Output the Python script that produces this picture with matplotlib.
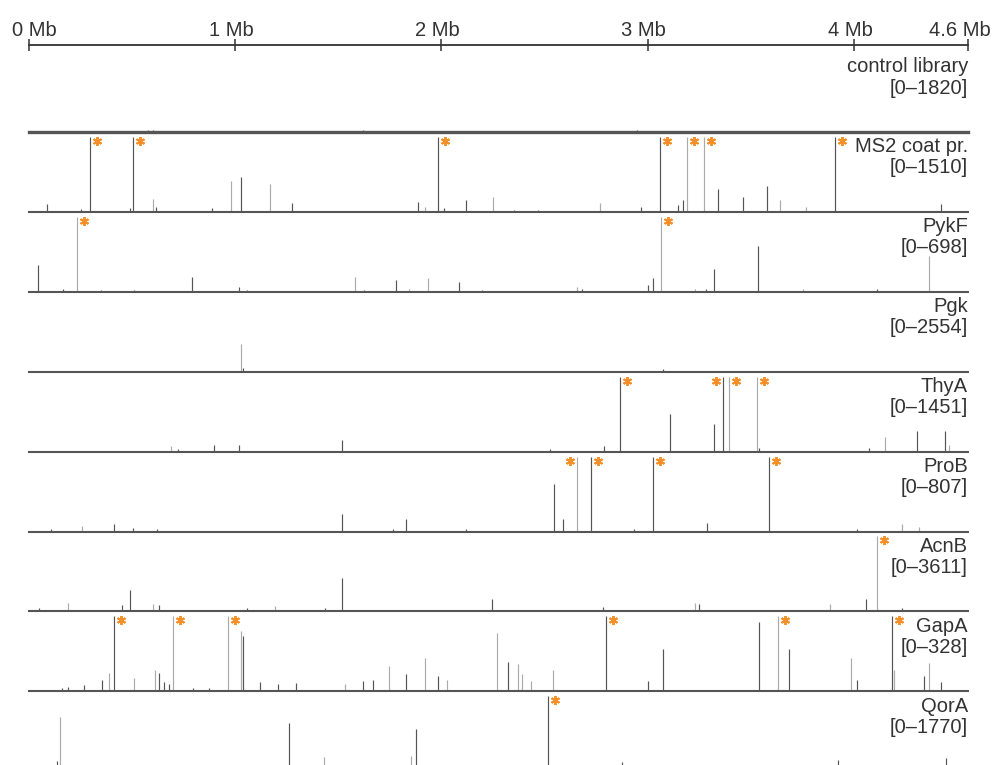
import matplotlib.pyplot as plt
from matplotlib.transforms import offset_copy, ScaledTranslation

plt.rcParams['font.family'] = ['Liberation Sans', 'DejaVu Sans']

# genome scale (Mb)
genome_mb = 4.553
scale_ticks = [0, 1, 2, 3, 4, genome_mb]
scale_labels = ['0 Mb', '1 Mb', '2 Mb', '3 Mb', '4 Mb', '4.6 Mb']

track_names = ['control library', 'MS2 coat pr.', 'PykF', 'Pgk', 'ThyA',
               'ProB', 'AcnB', 'GapA', 'QorA']
track_max = [1820, 1510, 698, 2554, 1451, 807, 3611, 328, 1770]

# peaks: (position in Mb, reads, strand)
control_peaks = [(0.12, 30, '+'), (0.30, 25, '+'), (0.577, 45, '+'), (0.60, 40, '+'),
                 (1.05, 25, '-'), (1.62, 60, '+'), (2.30, 25, '+'), (2.946, 55, '+'),
                 (3.05, 30, '-'), (3.50, 30, '+'), (4.40, 25, '+')]
ms2_peaks = [(0.087, 150, '+'), (0.252, 60, '+'), (0.297, 1510, '+'), (0.490, 75, '+'),
             (0.506, 1510, '+'), (0.600, 260, '-'), (0.614, 90, '+'), (0.887, 75, '+'),
             (0.979, 620, '-'), (1.026, 700, '+'), (1.168, 560, '-'), (1.275, 180, '+'),
             (1.886, 200, '+'), (1.919, 90, '-'), (1.985, 1510, '+'), (2.012, 75, '+'),
             (2.119, 240, '+'), (2.248, 300, '-'), (2.352, 45, '+'), (2.466, 45, '+'),
             (2.768, 180, '-'), (2.966, 90, '+'), (3.061, 1510, '+'), (3.145, 140, '+'),
             (3.172, 240, '+'), (3.189, 1510, '-'), (3.271, 1510, '-'), (3.342, 470, '+'),
             (3.460, 290, '+'), (3.580, 530, '+'), (3.640, 230, '-'), (3.766, 90, '-'),
             (3.909, 1510, '+'), (4.420, 150, '+')]
pykf_peaks = [(0.045, 250, '+'), (0.163, 28, '+'), (0.233, 698, '-'), (0.349, 15, '+'),
              (0.509, 20, '+'), (0.790, 140, '+'), (1.017, 42, '+'), (1.056, 20, '+'),
              (1.582, 140, '-'), (1.626, 20, '+'), (1.779, 112, '+'), (1.844, 28, '-'),
              (1.933, 133, '-'), (2.083, 90, '+'), (2.196, 15, '+'), (2.658, 42, '-'),
              (2.681, 28, '+'), (3.001, 63, '+'), (3.027, 133, '+'), (3.063, 698, '-'),
              (3.228, 28, '-'), (3.282, 28, '+'), (3.323, 210, '+'), (3.533, 425, '+'),
              (3.753, 28, '-'), (4.110, 28, '+'), (4.362, 335, '-')]
pgk_peaks = [(1.026, 945, '-'), (1.036, 130, '+'), (3.075, 80, '+')]
thya_peaks = [(0.687, 100, '-'), (0.721, 55, '+'), (0.896, 130, '+'), (1.017, 130, '+'),
              (1.519, 230, '+'), (2.526, 45, '+'), (2.788, 100, '+'), (2.867, 1451, '+'),
              (3.106, 725, '+'), (3.323, 540, '+'), (3.363, 1451, '+'), (3.392, 1451, '-'),
              (3.528, 1451, '-'), (3.541, 70, '+'), (4.074, 70, '+'), (4.152, 290, '-'),
              (4.304, 405, '+'), (4.443, 405, '+'), (4.462, 130, '-')]
prob_peaks = [(0.107, 25, '+'), (0.256, 55, '-'), (0.411, 80, '+'), (0.506, 40, '+'),
              (0.620, 25, '+'), (1.519, 185, '+'), (1.766, 30, '+'), (1.829, 130, '+'),
              (2.119, 25, '+'), (2.547, 510, '+'), (2.589, 135, '+'), (2.658, 807, '-'),
              (2.723, 807, '+'), (2.932, 25, '+'), (3.027, 807, '+'), (3.286, 90, '+'),
              (3.589, 807, '+'), (4.013, 25, '+'), (4.233, 80, '-'), (4.317, 45, '-')]
acnb_peaks = [(0.050, 180, '+'), (0.191, 400, '-'), (0.449, 290, '+'), (0.491, 1010, '+'),
              (0.603, 360, '-'), (0.630, 290, '+'), (1.056, 180, '+'), (1.193, 250, '-'),
              (1.435, 180, '+'), (1.519, 1590, '+'), (2.246, 615, '+'), (2.785, 220, '+'),
              (3.228, 400, '-'), (3.250, 360, '+'), (3.882, 360, '-'), (4.057, 615, '+'),
              (4.110, 3611, '-'), (4.233, 180, '+')]
gapa_peaks = [(0.161, 16, '+'), (0.191, 20, '+'), (0.268, 26, '+'), (0.352, 49, '+'),
              (0.388, 79, '-'), (0.411, 328, '+'), (0.508, 56, '-'), (0.609, 95, '-'),
              (0.630, 82, '+'), (0.656, 39, '+'), (0.680, 33, '+'), (0.698, 328, '-'),
              (0.797, 16, '+'), (0.874, 16, '+'), (0.965, 328, '-'), (1.026, 262, '-'),
              (1.039, 243, '+'), (1.119, 39, '+'), (1.206, 33, '+'), (1.295, 36, '+'),
              (1.532, 33, '-'), (1.621, 43, '+'), (1.666, 49, '+'), (1.747, 112, '-'),
              (1.826, 75, '+'), (1.920, 144, '-'), (1.982, 66, '+'), (2.027, 49, '-'),
              (2.269, 253, '-'), (2.321, 128, '+'), (2.372, 118, '-'), (2.392, 75, '-'),
              (2.435, 46, '-'), (2.541, 92, '-'), (2.799, 328, '+'), (3.001, 46, '+'),
              (3.075, 184, '+'), (3.538, 302, '+'), (3.632, 328, '-'), (3.683, 184, '+'),
              (3.985, 144, '-'), (4.013, 49, '+'), (4.183, 328, '+'), (4.192, 95, '-'),
              (4.339, 66, '+'), (4.364, 125, '-'), (4.420, 39, '+')]
qora_peaks = [(0.137, 250, '+'), (0.152, 1290, '-'), (1.261, 1130, '+'), (1.429, 335, '-'),
              (1.852, 355, '-'), (1.878, 990, '+'), (2.518, 1770, '+'), (2.874, 210, '+'),
              (3.921, 265, '+'), (4.446, 320, '+')]

# significant peaks, marked with an asterisk (Mb)
ms2_hits = [0.297, 0.506, 1.985, 3.061, 3.189, 3.271, 3.909]
pykf_hits = [0.233, 3.063]
thya_hits = [2.867, 3.363, 3.392, 3.528]
prob_hits = [2.658, 2.723, 3.027, 3.589]
acnb_hits = [4.110]
gapa_hits = [0.411, 0.698, 0.965, 2.799, 3.632, 4.183]
qora_hits = [2.518]

all_peaks = [control_peaks, ms2_peaks, pykf_peaks, pgk_peaks, thya_peaks,
             prob_peaks, acnb_peaks, gapa_peaks, qora_peaks]
all_hits = [[], ms2_hits, pykf_hits, [], thya_hits, prob_hits, acnb_hits,
            gapa_hits, qora_hits]

W, H = 992, 765
x0, x1 = 29, 968
base0, pitch, track_h = 132, 79.9, 75
txt = '#333333'
orange = '#f39029'
strand_col = {'+': '#555555', '-': '#ababab'}

fig = plt.figure(figsize=(W / 100, H / 100), dpi=100)

# scale bar on top, its line at y = 45 px
ax_s = fig.add_axes([x0 / W, 1 - 55 / H, (x1 - x0) / W, 10 / H])
ax_s.set_xlim(0, genome_mb)
ax_s.set_ylim(0, 1)
for sp in ['left', 'right', 'bottom']:
    ax_s.spines[sp].set_visible(False)
ax_s.spines['top'].set_color(txt)
ax_s.spines['top'].set_linewidth(1.3)
ax_s.set_yticks([])
ax_s.xaxis.tick_top()
ax_s.set_xticks(scale_ticks)
ax_s.set_xticklabels(scale_labels)
ax_s.tick_params(axis='x', direction='inout', length=9, width=1.1, color=txt,
                 labelsize=14.5, labelcolor=txt, pad=-1)
ax_s.patch.set_visible(False)
for k, lab in enumerate(ax_s.get_xticklabels()):
    dx = 5 if k == 0 else (-8 if k == len(scale_labels) - 1 else -4)
    lab.set_transform(lab.get_transform() + ScaledTranslation(dx / 100, 0, fig.dpi_scale_trans))

for i, name in enumerate(track_names):
    base = base0 + pitch * i
    ymax = track_max[i]
    ax = fig.add_axes([x0 / W, 1 - base / H, (x1 - x0) / W, track_h / H])
    ax.set_xlim(0, genome_mb)
    ax.set_ylim(0, ymax)
    ax.axis('off')

    peaks = all_peaks[i]
    pos = [p[0] for p in peaks]
    val = [min(p[1], ymax) for p in peaks]
    cols = [strand_col[p[2]] for p in peaks]
    ax.vlines(pos, 0, val, colors=cols, linewidth=0.85)
    ax.axhline(0, color='#555555', lw=2.4 if i == 0 else 1.5, clip_on=False)

    hits = all_hits[i]
    for k, h in enumerate(hits):
        left = k + 1 < len(hits) and hits[k + 1] - h < 0.075
        tr = offset_copy(ax.transData, fig=fig, x=-7 if left else 7, y=-4, units='dots')
        ax.plot([h], [ymax], marker=(6, 2, 0), ms=6.5, mew=1.4, color=orange,
                transform=tr, clip_on=False)

    ax.text(1.0, 1 - 10 / track_h, name, transform=ax.transAxes, ha='right',
            va='center', fontsize=14.5, color=txt)
    ax.text(1.0, 1 - 31 / track_h, '[0\u2013%d]' % ymax, transform=ax.transAxes,
            ha='right', va='center', fontsize=14.5, color=txt)

fig.savefig('out.png', dpi=100)
